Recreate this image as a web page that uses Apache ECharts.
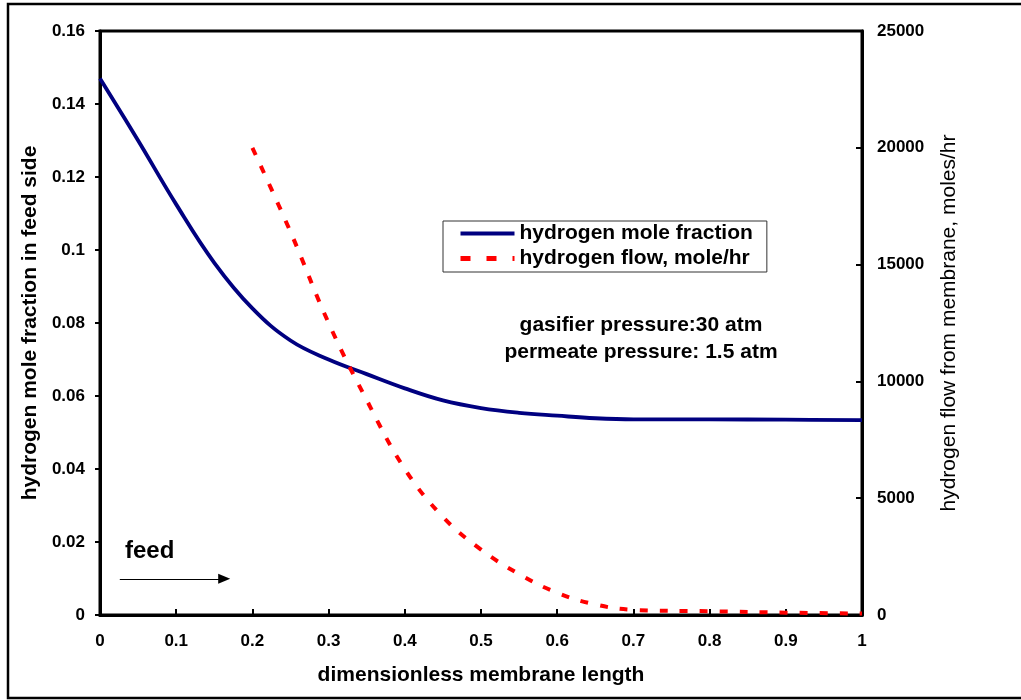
<!DOCTYPE html>
<html><head><meta charset="utf-8">
<script src="https://cdn.jsdelivr.net/npm/echarts@6/dist/echarts.min.js"></script>
<style>html,body{margin:0;padding:0;background:#fff}#c{width:1021px;height:700px}</style>
</head><body><div id="c"></div>
<script>
var xMole = [0, 0.05, 0.1, 0.15, 0.2, 0.25, 0.3, 0.35, 0.4, 0.45, 0.5, 0.55, 0.6, 0.65, 0.7, 0.8, 0.9, 1.0];
var moleFraction = [0.147, 0.130, 0.1125, 0.0965, 0.084, 0.0752, 0.0700, 0.0660, 0.0621, 0.0588, 0.0567, 0.0554, 0.0546, 0.0539, 0.0536, 0.0536, 0.0535, 0.0534];
var xFlow = [0.2, 0.25, 0.3, 0.35, 0.4, 0.45, 0.5, 0.55, 0.6, 0.65, 0.7, 0.8, 0.9, 1.0];
var flow = [20000, 16400, 12500, 9200, 6250, 4200, 2800, 1750, 950, 450, 220, 160, 100, 60];
var seriesNames = ['hydrogen mole fraction', 'hydrogen flow, mole/hr'];
var xTitle = 'dimensionless membrane length';
var yLeftTitle = 'hydrogen mole fraction in feed side';
var yRightTitle = 'hydrogen flow from membrane, moles/hr';
var notes = ['gasifier pressure:30 atm', 'permeate pressure: 1.5 atm'];
var feedArrow = [[0.026, 0.0099], [0.163, 0.0099]];

var FF = 'Liberation Sans, Arial, sans-serif';
var chart = echarts.init(document.getElementById('c'));
function zip(a, b) { return a.map(function (v, i) { return [v, b[i]]; }); }
chart.setOption({
  animation: false,
  backgroundColor: '#fff',
  grid: { left: 100, right: 159, top: 31, bottom: 85, show: true, borderColor: '#000', borderWidth: 3 },
  legend: {
    left: 443, top: 221, width: 322, orient: 'vertical',
    padding: [2, 14, 3, 15], itemGap: 4,
    borderColor: '#333', borderWidth: 1,
    itemWidth: 54, itemHeight: 14,
    itemStyle: { color: 'rgba(0,0,0,0)', borderWidth: 0, borderColor: 'rgba(0,0,0,0)' },
    textStyle: { fontFamily: FF, fontWeight: 'bold', fontSize: 21, color: '#000' },
    data: [
      { name: seriesNames[0], lineStyle: { width: 4, color: '#000080', type: 'solid' } },
      { name: seriesNames[1], lineStyle: { width: 5, color: '#ff0000', type: [10, 16] } }
    ]
  },
  xAxis: {
    type: 'value', min: 0, max: 1, interval: 0.1,
    name: xTitle, nameLocation: 'middle', nameGap: 50,
    nameTextStyle: { fontFamily: FF, fontWeight: 'bold', fontSize: 21, color: '#000' },
    axisLine: { onZero: false, lineStyle: { color: '#000', width: 3 } },
    axisTick: { inside: true, length: 6, lineStyle: { color: '#000', width: 2 } },
    splitLine: { show: false },
    axisLabel: { fontFamily: FF, fontWeight: 'bold', fontSize: 17, color: '#000', margin: 18 }
  },
  yAxis: [{
    type: 'value', min: 0, max: 0.16, interval: 0.02, position: 'left',
    name: yLeftTitle, nameLocation: 'middle', nameGap: 58,
    nameTextStyle: { fontFamily: FF, fontWeight: 'bold', fontSize: 21, color: '#000' },
    axisLine: { show: true, lineStyle: { color: '#000', width: 3 } },
    axisTick: { show: true, inside: false, length: 5, lineStyle: { color: '#000', width: 2 } },
    splitLine: { show: false },
    axisLabel: { fontFamily: FF, fontWeight: 'bold', fontSize: 17, color: '#000', margin: 15 }
  }, {
    type: 'value', min: 0, max: 25000, interval: 5000, position: 'right',
    name: yRightTitle, nameLocation: 'middle', nameGap: 77, nameRotate: 90,
    nameTextStyle: { fontFamily: FF, fontWeight: 'normal', fontSize: 21, color: '#000' },
    axisLine: { show: true, lineStyle: { color: '#000', width: 3 } },
    axisTick: { show: true, inside: true, length: 6, lineStyle: { color: '#000', width: 2 } },
    splitLine: { show: false },
    axisLabel: { fontFamily: FF, fontWeight: 'bold', fontSize: 17, color: '#000', margin: 15,
      formatter: function (v) { return String(v); } }
  }],
  series: [{
    name: seriesNames[0], type: 'line', yAxisIndex: 0, smooth: 0.4, symbol: 'none',
    data: zip(xMole, moleFraction),
    lineStyle: { color: '#000080', width: 3.8 }, itemStyle: { color: '#000080' },
    markLine: {
      silent: true, symbol: ['none', 'triangle'], symbolSize: [10, 12], label: { show: false },
      lineStyle: { color: '#000', width: 1, type: 'solid' },
      data: [[{ coord: feedArrow[0] }, { coord: feedArrow[1] }]]
    }
  }, {
    name: seriesNames[1], type: 'line', yAxisIndex: 1, smooth: 0.4, symbol: 'none',
    data: zip(xFlow, flow),
    lineStyle: { color: '#ff0000', width: 4, type: [8, 12] }, itemStyle: { color: '#ff0000' }
  }],
  graphic: [
    { type: 'rect', shape: { x: 8, y: 4, width: 1040, height: 694 }, style: { fill: 'none', stroke: '#000', lineWidth: 2.5 }, silent: true },
    { type: 'text', x: 641, y: 325, style: { text: notes[0], fontFamily: FF, fontWeight: 'bold', fontSize: 21, fill: '#000', align: 'center', verticalAlign: 'middle' } },
    { type: 'text', x: 641, y: 352, style: { text: notes[1], fontFamily: FF, fontWeight: 'bold', fontSize: 21, fill: '#000', align: 'center', verticalAlign: 'middle' } },
    { type: 'text', x: 125, y: 551, style: { text: 'feed', fontFamily: FF, fontWeight: 'bold', fontSize: 24, fill: '#000', align: 'left', verticalAlign: 'middle' } }
  ]
});
</script></body></html>
